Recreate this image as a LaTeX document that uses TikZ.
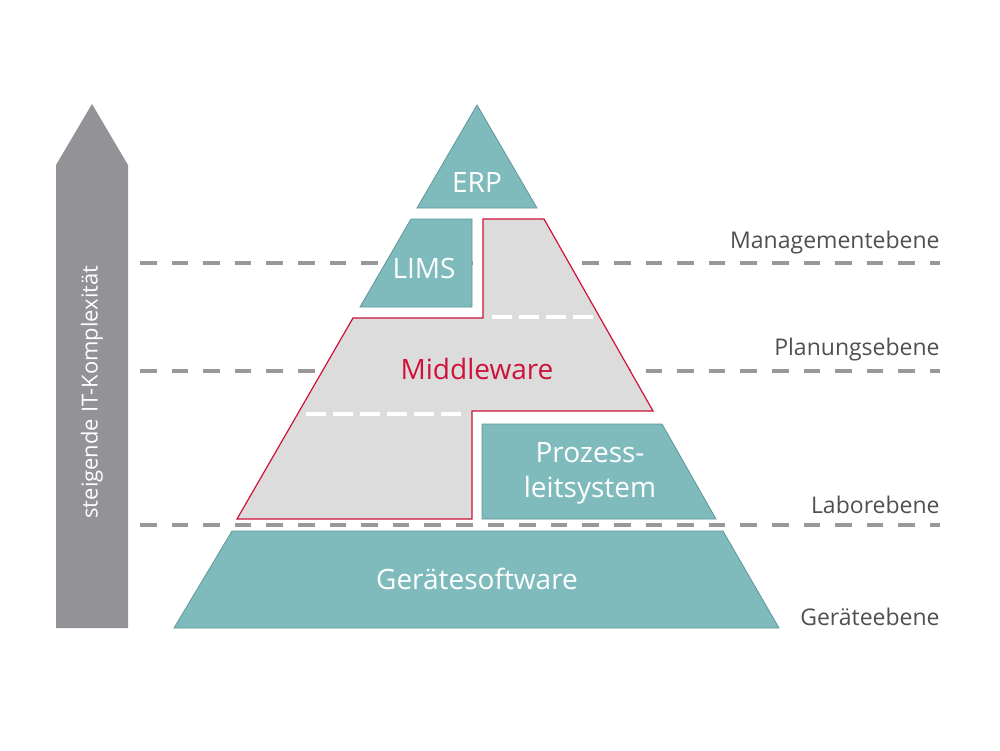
\documentclass[tikz,border=0pt]{standalone}
\usepackage{fontspec}
\setmainfont{Open Sans}
\definecolor{teal1}{RGB}{127,187,188}
\definecolor{tealedge}{RGB}{96,150,152}
\definecolor{mwfill}{RGB}{220,220,220}
\definecolor{mwred}{RGB}{206,18,58}
\definecolor{arrowgray}{RGB}{147,147,151}
\definecolor{dashgray}{RGB}{152,152,156}
\definecolor{labelgray}{RGB}{80,80,80}
\tikzset{
  levelline/.style={draw=dashgray, line width=2pt, dash pattern=on 8.25pt off 7.55pt},
  whiteline/.style={draw=white, line width=2pt, dash pattern=on 10pt off 3.5pt},
  tealshape/.style={fill=teal1, draw=tealedge, line width=0.4pt},
  mwshape/.style={fill=mwfill, draw=mwred, line width=0.6pt},
  boxtext/.style={text=white, font=\fontsize{14}{17}\selectfont, align=center, inner sep=0pt},
  sidelabel/.style={text=labelgray, font=\fontsize{11.5}{14}\selectfont, anchor=east, inner sep=0pt},
  arrowtext/.style={text=white, font=\fontsize{11}{13}\selectfont, rotate=90, inner sep=0pt}
}
\begin{document}
\begin{tikzpicture}[x=0.5pt,y=-0.5pt]
\useasboundingbox (0,0) rectangle (1000,750);
% level lines
\coordinate (m1) at (140,263); \coordinate (m2) at (940,263);
\coordinate (p1) at (140,371); \coordinate (p2) at (940,371);
\coordinate (l1) at (140,525); \coordinate (l2) at (940,525);
\draw[levelline] (m1) -- (m2);
\draw[levelline] (p1) -- (p2);
\draw[levelline] (l1) -- (l2);
% arrow
\fill[arrowgray] (56,628) -- (56,165) -- (92,104) -- (128,165) -- (128,628) -- cycle;
\node[arrowtext] (arrowlabel) at (92,392) {steigende IT-Komplexität};
% ERP
\draw[tealshape] (477,105) -- (537,208) -- (417,208) -- cycle;
\node[boxtext] (erp) at (477,183) {ERP};
% LIMS
\draw[tealshape] (411,219) -- (472,219) -- (472,307) -- (360,307) -- cycle;
\node[boxtext] (lims) at (424,268) {LIMS};
% Middleware
\draw[mwshape] (483,219) -- (544,219) -- (653,411) -- (472,411) -- (472,519) -- (237,519) -- (353,318) -- (483,318) -- cycle;
\coordinate (w1) at (492,317); \coordinate (w2) at (594,317);
\coordinate (w3) at (306,414); \coordinate (w4) at (463,414);
\draw[whiteline] (w1) -- (w2);
\draw[whiteline] (w3) -- (w4);
\node[boxtext, text=mwred] (mw) at (477,369) {Middleware};
% Prozessleitsystem
\draw[tealshape] (482,424) -- (662,424) -- (716,519) -- (482,519) -- cycle;
\node[boxtext, font=\fontsize{14}{17.5}\selectfont] (pls) at (590,473) {Prozess-\\leitsystem};
% Geraetesoftware
\draw[tealshape] (232,531) -- (723,531) -- (779,628) -- (174,628) -- cycle;
\node[boxtext] (geraete) at (477,579) {Gerätesoftware};
% side labels
\node[sidelabel] (lm) at (940,243) {Managementebene};
\node[sidelabel] (lp) at (940,350) {Planungsebene};
\node[sidelabel] (ll) at (940,505) {Laborebene};
\node[sidelabel] (lg) at (940,617) {Geräteebene};
\end{tikzpicture}
\end{document}
